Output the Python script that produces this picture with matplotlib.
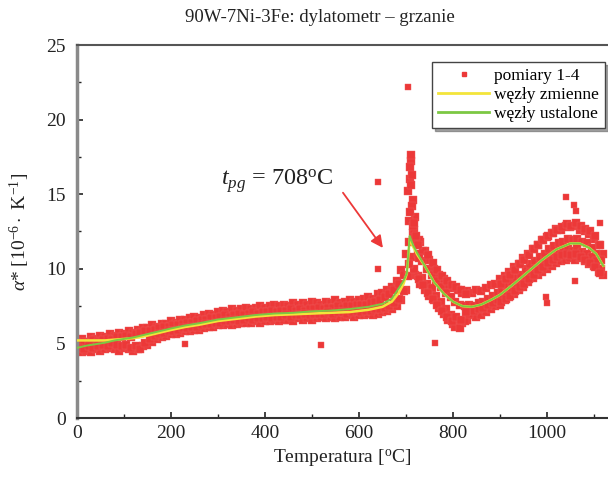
import numpy as np
import matplotlib
matplotlib.use('Agg')
import matplotlib.pyplot as plt
from matplotlib.lines import Line2D
from matplotlib.ticker import MultipleLocator

plt.rcParams['font.family'] = ['Liberation Serif', 'DejaVu Serif']
plt.rcParams['mathtext.fontset'] = 'custom'
plt.rcParams['mathtext.rm'] = 'Liberation Serif'
plt.rcParams['mathtext.it'] = 'Liberation Serif:italic'

# ----------------------------------------------------------------
# measurements, runs 1-4 (read off the picture)
# ----------------------------------------------------------------
temp_a = np.arange(10, 1121, 10)   # runs 1 and 2
temp_b = np.arange(5, 1116, 10)    # runs 3 and 4

run1 = [5.3, 5.1, 5.4, 5.3, 5.5, 5.4, 5.6, 5.5, 5.7, 5.6,
        5.8, 5.7, 5.9, 6.0, 6.0, 6.2, 6.1, 6.3, 6.3, 6.5,
        6.4, 6.6, 6.6, 6.7, 6.8, 6.7, 6.9, 7.0, 6.9, 7.1,
        7.2, 7.1, 7.3, 7.2, 7.3, 7.4, 7.3, 7.4, 7.5, 7.4,
        7.5, 7.6, 7.5, 7.6, 7.5, 7.7, 7.6, 7.7, 7.6, 7.8,
        7.7, 7.6, 7.8, 7.7, 7.9, 7.7, 7.8, 7.9, 7.8, 7.9,
        8.0, 8.1, 8.0, 8.3, 8.4, 8.6, 8.8, 9.2, 9.9, 11.0,
        17.2, 13.5, 11.8, 11.2, 10.6, 10.0, 9.6, 9.3, 8.9, 8.7,
        8.6, 8.4, 8.5, 8.4, 8.6, 8.5, 8.7, 8.9, 9.0, 9.3,
        9.5, 9.8, 10.1, 10.3, 10.7, 11.0, 11.3, 11.6, 11.9, 12.1,
        12.4, 12.7, 12.6, 12.9, 12.8, 12.9, 12.6, 12.5, 12.3, 12.0,
        11.6, 11.0]

run2 = [4.4, 4.5, 4.4, 4.6, 4.5, 4.6, 4.7, 4.6, 4.5, 4.7,
        4.6, 4.5, 4.6, 4.8, 4.9, 5.1, 5.3, 5.4, 5.5, 5.6,
        5.6, 5.7, 5.8, 5.8, 5.9, 5.9, 6.0, 6.1, 6.1, 6.2,
        6.2, 6.3, 6.2, 6.3, 6.4, 6.4, 6.4, 6.5, 6.4, 6.5,
        6.5, 6.6, 6.5, 6.6, 6.6, 6.5, 6.7, 6.6, 6.7, 6.6,
        6.7, 6.8, 6.7, 6.8, 6.7, 6.8, 6.8, 6.9, 6.8, 6.9,
        6.9, 7.0, 6.9, 7.0, 7.1, 7.2, 7.3, 7.5, 7.9, 8.6,
        10.8, 9.6, 9.0, 8.6, 8.2, 7.9, 7.4, 7.0, 6.6, 6.3,
        6.2, 6.4, 6.6, 6.9, 6.8, 6.9, 7.1, 7.3, 7.5, 7.6,
        7.9, 8.1, 8.3, 8.6, 8.8, 9.1, 9.4, 9.6, 9.8, 10.0,
        10.2, 10.4, 10.5, 10.6, 10.7, 10.6, 10.7, 10.5, 10.3, 10.2,
        9.8, 9.6]

run3 = [5.0, 5.1, 5.0, 5.2, 5.1, 5.2, 5.3, 5.2, 5.4, 5.4,
        5.5, 5.4, 5.6, 5.7, 5.8, 5.8, 5.9, 6.0, 6.1, 6.1,
        6.2, 6.2, 6.3, 6.4, 6.4, 6.5, 6.6, 6.6, 6.7, 6.7,
        6.8, 6.9, 6.8, 6.9, 7.0, 6.9, 7.0, 7.1, 7.0, 7.1,
        7.1, 7.2, 7.1, 7.2, 7.2, 7.3, 7.2, 7.3, 7.2, 7.3,
        7.3, 7.4, 7.3, 7.4, 7.4, 7.5, 7.4, 7.5, 7.5, 7.6,
        7.6, 7.6, 7.7, 7.8, 7.9, 8.1, 8.3, 8.6, 9.0, 9.6,
        15.2, 14.6, 11.0, 10.5, 10.0, 9.6, 9.2, 8.8, 8.4, 8.1,
        7.8, 7.6, 7.5, 7.6, 7.5, 7.7, 7.8, 8.0, 8.2, 8.4,
        8.6, 8.9, 9.1, 9.4, 9.6, 10.0, 10.3, 10.5, 10.8, 11.0,
        11.3, 11.5, 11.7, 11.8, 12.0, 11.9, 12.0, 11.8, 11.7, 11.4,
        11.0, 10.6]

run4 = [4.7, 4.6, 4.8, 4.7, 4.8, 4.9, 4.8, 5.0, 4.9, 4.8,
        4.9, 4.7, 4.8, 4.6, 5.0, 5.3, 5.5, 5.6, 5.7, 5.8,
        5.8, 5.9, 6.0, 6.0, 6.1, 6.1, 6.2, 6.3, 6.3, 6.4,
        6.4, 6.5, 6.5, 6.6, 6.5, 6.6, 6.7, 6.6, 6.7, 6.7,
        6.8, 6.7, 6.8, 6.8, 6.9, 6.8, 6.9, 6.9, 7.0, 6.9,
        7.0, 7.0, 7.0, 7.1, 7.0, 7.1, 7.1, 7.0, 7.1, 7.2,
        7.1, 7.2, 7.2, 7.3, 7.3, 7.4, 7.5, 7.7, 8.0, 8.5,
        9.5, 12.4, 9.5, 9.4, 9.0, 8.7, 8.2, 7.8, 7.3, 6.9,
        6.1, 6.0, 6.5, 7.0, 7.2, 7.3, 7.4, 7.6, 7.7, 7.9,
        8.1, 8.4, 8.6, 8.9, 9.1, 9.4, 9.7, 10.0, 10.2, 10.5,
        10.6, 10.9, 11.0, 11.2, 11.3, 11.2, 11.4, 11.1, 11.0, 10.8,
        10.5, 10.0]

# denser readings in the wide parts of the band (after the peak, above 900 C)
post_t = [717, 727, 737, 747, 757, 767, 777, 787, 797, 807, 817, 827]
post_hi = [12.6, 11.9, 11.2, 10.9, 10.4, 9.9, 9.5, 9.2, 8.9, 8.8, 8.6, 8.3]
post_lo = [10.0, 9.3, 8.9, 8.4, 8.0, 7.6, 7.2, 6.8, 6.5, 6.8, 6.6, 7.1]

hot_t = [902, 912, 922, 932, 942, 952, 962, 972, 982, 992, 1002, 1012,
         1022, 1032, 1042, 1052, 1062, 1072, 1082, 1092, 1102, 1112]
hot_hi = [9.0, 9.3, 9.6, 9.9, 10.3, 10.6, 10.9, 11.3, 11.6, 11.9, 12.2, 12.4,
          12.6, 12.8, 13.0, 12.9, 13.1, 12.9, 12.7, 12.5, 12.2, 11.6]
hot_lo = [7.8, 8.0, 8.2, 8.5, 8.8, 9.0, 9.3, 9.6, 9.9, 10.1, 10.4, 10.6,
          10.8, 10.9, 11.0, 10.9, 11.0, 10.8, 10.6, 10.4, 10.1, 9.7]

# points in the spike at the transition
spike_t = [706, 708, 709, 710, 711, 712, 707, 713, 709, 706, 714, 716,
           718, 722, 725, 728]
spike_v = [13.2, 16.0, 16.8, 17.6, 15.6, 14.2, 11.8, 16.3, 13.8, 10.3,
           12.9, 11.9, 13.1, 12.2, 11.6, 10.7]

# stray single readings
stray_t = [704, 640, 640, 230, 520, 762, 999, 1000, 1060, 1113, 1040, 1058, 1062]
stray_v = [22.2, 15.8, 10.0, 4.95, 4.9, 5.05, 8.1, 7.7, 9.2, 13.1, 14.8, 14.3, 13.9]

# fitted splines: fixed knots / variable knots
knot_t = [0, 20, 40, 60, 80, 100, 120, 140, 160, 180, 200, 230, 260, 300,
          340, 380, 420, 460, 500, 540, 580, 620, 650, 670, 685, 695, 702,
          708, 715, 725, 740, 760, 780, 800, 820, 840, 860, 880, 900, 930,
          960, 990, 1020, 1050, 1070, 1090, 1105, 1120]
fixed_v = [4.7, 4.85, 4.95, 5.05, 5.2, 5.3, 5.4, 5.55, 5.7, 5.85, 6.0, 6.2,
           6.35, 6.6, 6.75, 6.9, 7.0, 7.05, 7.15, 7.2, 7.3, 7.45, 7.65, 8.0,
           8.7, 9.2, 9.7, 12.2, 11.6, 11.0, 10.2, 9.1, 8.35, 7.8, 7.5, 7.45,
           7.6, 7.9, 8.25, 9.0, 9.8, 10.6, 11.3, 11.7, 11.7, 11.4, 11.0, 10.2]
var_v = [5.2, 5.2, 5.2, 5.2, 5.25, 5.3, 5.35, 5.45, 5.6, 5.75, 5.9, 6.1,
         6.25, 6.5, 6.65, 6.8, 6.9, 6.95, 7.0, 7.05, 7.1, 7.25, 7.45, 7.8,
         8.4, 9.0, 9.7, 12.0, 11.5, 10.9, 10.2, 9.1, 8.35, 7.8, 7.5, 7.45,
         7.6, 7.9, 8.25, 9.0, 9.8, 10.6, 11.3, 11.7, 11.7, 11.4, 11.0, 10.2]

RED = '#ec3838'
YELLOW = '#f3e53a'
GREEN = '#7cc843'

fig = plt.figure(figsize=(6.08, 4.86), dpi=100)
ax = fig.add_axes([77 / 608, 68 / 486, 531 / 608, 373 / 486])

sc_kw = dict(marker='s', color=RED, edgecolors='#ef5a5a',
             linewidths=0.3, zorder=2)
for tt, vv in [(temp_a, run1), (temp_a, run2), (temp_b, run3),
               (temp_b, run4), (post_t, post_hi), (post_t, post_lo),
               (hot_t, hot_hi), (hot_t, hot_lo), (spike_t, spike_v)]:
    ax.scatter(tt, vv, s=30, **sc_kw)
ax.scatter(stray_t, stray_v, s=16, **sc_kw)

ax.plot(knot_t, var_v, color=YELLOW, lw=1.8, zorder=3)
ax.plot(knot_t, fixed_v, color=GREEN, lw=1.4, zorder=4)

ax.set_xlim(0, 1130)
ax.set_ylim(0, 25)
ax.xaxis.set_major_locator(MultipleLocator(200))
ax.xaxis.set_minor_locator(MultipleLocator(100))
ax.yaxis.set_major_locator(MultipleLocator(5))
ax.yaxis.set_minor_locator(MultipleLocator(2.5))
ax.tick_params(which='both', direction='in', labelsize=14, colors='#222222')
ax.tick_params(which='major', length=4, width=1.2)
ax.tick_params(which='minor', length=3, width=1.0)
ax.tick_params(axis='y', pad=8)
ax.tick_params(axis='x', pad=5)

ax.spines['right'].set_visible(False)
ax.spines['left'].set_color('#8a8a8a')
ax.spines['left'].set_linewidth(2.5)
ax.spines['top'].set_color('#555555')
ax.spines['top'].set_linewidth(1.5)
ax.spines['bottom'].set_color('#333333')
ax.spines['bottom'].set_linewidth(1.5)

ax.set_xlabel('Temperatura [$^{\\rm o}$C]', fontsize=14, color='#222222', labelpad=4)
ax.set_ylabel(r'$\alpha$* [10$^{-6}\cdot$ K$^{-1}$]', fontsize=14,
              color='#222222', labelpad=10)
fig.text(320 / 608, 1 - 17 / 486, '90W-7Ni-3Fe: dylatometr – grzanie',
         ha='center', va='center', fontsize=13.5, color='#222222')

ax.annotate('', xy=(651, 11.4), xytext=(566, 15.1),
            arrowprops=dict(arrowstyle='-|>', color=RED, lw=1.3,
                            mutation_scale=18, shrinkA=0, shrinkB=0))
ax.text(306, 15.9, r'$t_{pg}$ = 708$^{\rm o}$C', fontsize=17.5,
        color='#222222', ha='left', va='center')

handles = [
    Line2D([], [], marker='s', ls='none', color=RED, markersize=3),
    Line2D([], [], color=YELLOW, lw=2),
    Line2D([], [], color=GREEN, lw=2),
]
labels = ['pomiary 1-4', 'węzły zmienne', 'węzły ustalone']
leg = ax.legend(handles, labels, loc='upper right',
                bbox_to_anchor=(605 / 608, 1 - 62 / 486),
                bbox_transform=fig.transFigure, fontsize=12.5,
                frameon=True, fancybox=False, shadow=True,
                borderpad=0.35, labelspacing=0.15, handlelength=2.9,
                handletextpad=0.3, borderaxespad=0)
leg.get_frame().set_edgecolor('#444444')
leg.get_frame().set_linewidth(1.0)

fig.savefig('out.png', dpi=100, facecolor='white')
